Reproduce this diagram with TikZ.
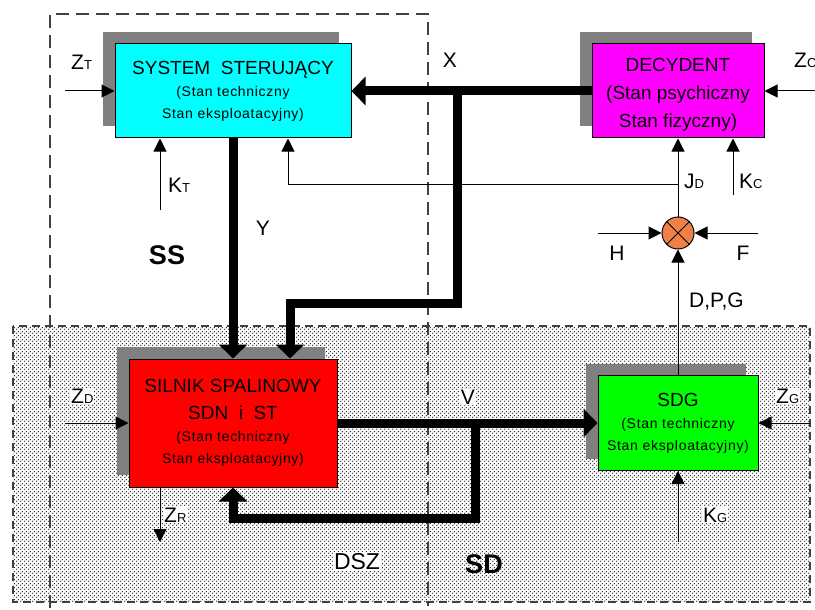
\documentclass[tikz,border=0pt]{standalone}
\usepackage{fontspec}
\setmainfont{Liberation Sans}
\newfontfamily\spcfont[LetterSpace=5]{Liberation Sans}
\usetikzlibrary{arrows.meta,shadows,patterns}
\newcommand\fsz[2]{\fontsize{#1}{#2}\selectfont}
\newcommand\lab[2]{#1{\fsz{13}{13}#2}}
\definecolor{orng}{RGB}{240,128,72}
\definecolor{shadowgray}{RGB}{128,128,128}
\definecolor{boxcyan}{RGB}{0,255,255}
\definecolor{boxmagenta}{RGB}{255,0,255}
\definecolor{boxred}{RGB}{255,0,0}
\definecolor{boxgreen}{RGB}{0,255,0}
\pgfdeclarepatternformonly{stipdots}{\pgfpointorigin}{\pgfpoint{4pt}{4pt}}{\pgfpoint{4pt}{4pt}}%
{\pgfpathcircle{\pgfpoint{1pt}{1pt}}{0.85pt}\pgfpathcircle{\pgfpoint{3pt}{3pt}}{0.85pt}\pgfusepath{fill}}
\begin{document}
\begin{tikzpicture}[x=1pt,y=-1pt,
  box/.style={draw=black, line width=1pt, inner sep=0pt, align=center,
    general shadow={fill=shadowgray, shadow xshift=-12pt, shadow yshift=12pt}},
  thinarr/.style={line width=1pt, -{Triangle[length=13pt,width=13pt]}},
  thickarr/.style={line width=9pt, -{Triangle[length=14pt,width=28pt]}},
  lbl/.style={font=\fsz{21}{24}, inner sep=1pt, fill=white},
  boldlbl/.style={font=\bfseries\fsz{27}{30}, inner sep=1pt},
  dashframe/.style={line width=1.1pt, black!75, dash pattern=on 13pt off 7pt},
  dashstip/.style={line width=1.1pt, black!75, dash pattern=on 8pt off 5pt}
]
\useasboundingbox (0,0) rectangle (815,610);
% background regions
\path[pattern=stipdots, pattern color=black!90] (13,326) rectangle (810,602);
\draw[dashstip] (13,326) rectangle (810,602);
\draw[dashframe] (50,608) -- (50,14) -- (428,14) -- (428,606);

% blocks
\node[box, fill=boxcyan, minimum width=236pt, minimum height=94pt,
      font=\spcfont\fsz{14}{22}] (ss) at (233,91)
  {{\rmfamily\fsz{19}{22}SYSTEM\ \ STERUJĄCY}\\(Stan techniczny\\Stan eksploatacyjny)};
\node[box, fill=boxmagenta, minimum width=172pt, minimum height=94pt,
      font=\fsz{19}{28}] (dec) at (678,91)
  {\rule{0pt}{20pt}DECYDENT\\(Stan psychiczny\\Stan fizyczny)};
\node[box, fill=boxred, minimum width=208pt, minimum height=128pt,
      font=\spcfont\fsz{14}{22}] (sil) at (233,423)
  {{\rmfamily\fsz{19}{22}SILNIK SPALINOWY}\\[5pt]{\rmfamily\fsz{19}{22}SDN\ \ i\ \ ST}\\(Stan techniczny\\Stan eksploatacyjny)};
\node[box, fill=boxgreen, minimum width=160pt, minimum height=95pt,
      font=\spcfont\fsz{14}{22}] (sdg) at (678,423)
  {{\rmfamily\fsz{19}{22}SDG}\\(Stan techniczny\\Stan eksploatacyjny)};
\node[circle, draw=black, line width=1pt, fill=orng, minimum size=32pt, inner sep=0pt] (sj) at (678,233) {};
\draw[line width=0.8pt] (sj.45) -- (sj.225) (sj.135) -- (sj.315);

% coordinates for free ends / bends
\coordinate (zt) at (65,91);
\coordinate (xs) at (457,91);
\coordinate (xc) at (290,303);
\coordinate (kt) at (160,210);
\coordinate (jds) at (678,184);
\coordinate (jdc) at (288,184);
\coordinate (kc) at (733,195);
\coordinate (zc) at (815,91);
\coordinate (h) at (598,233);
\coordinate (f) at (758,233);
\coordinate (zd) at (65,423);
\coordinate (zr) at (160,542);
\coordinate (vs) at (475,423);
\coordinate (fb) at (233,518);
\coordinate (zg) at (810,423);
\coordinate (kg) at (678,542);

% connectors
\draw[thinarr] (zt) -- (ss.west);
\draw[thickarr] (dec.west) -- (ss.east);
\draw[thickarr] (xs) |- (xc) -- (xc |- sil.north);
\draw[thickarr] (ss.south) -- (sil.north);
\draw[thinarr] (kt) -- (kt |- ss.south);
\draw[thinarr] (jds) -- (jdc) -- (jdc |- ss.south);
\draw[thinarr] (sj.north) -- (dec.south);
\draw[thinarr] (kc) -- (kc |- dec.south);
\draw[thinarr] (zc) -- (dec.east);
\draw[thinarr] (h) -- (sj.west);
\draw[thinarr] (f) -- (sj.east);
\draw[thinarr] (sdg.north) -- (sj.south);
\draw[thinarr] (zd) -- (sil.west);
\draw[thinarr] (zr |- sil.south) -- (zr);
\draw[thickarr] (sil.east) -- (sdg.west);
\draw[thickarr] (vs) |- (fb) -- (sil.south);
\draw[thinarr] (zg) -- (sdg.east);
\draw[thinarr] (kg) -- (sdg.south);

% labels
\node[lbl, anchor=base west] (lzt) at (70,70) {\lab{Z}{T}};
\node[lbl, anchor=base] (lx) at (450,68) {X};
\node[lbl, anchor=base west] (lzc) at (793,68) {\lab{Z}{C}};
\node[lbl, anchor=base west] (lkt) at (167,193) {\lab{K}{T}};
\node[lbl, anchor=base] (ly) at (263,235) {Y};
\node[boldlbl, anchor=base] (lss) at (167,264) {SS};
\node[lbl, anchor=base west] (ljd) at (683,188) {\lab{J}{D}};
\node[lbl, anchor=base west] (lkc) at (738,188) {\lab{K}{C}};
\node[lbl, anchor=base] (lh) at (617,260) {H};
\node[lbl, anchor=base] (lf) at (743,260) {F};
\node[lbl, anchor=base west] (ldpg) at (688,307) {D,P,G};
\node[lbl, anchor=base west] (lzd) at (70,403) {\lab{Z}{D}};
\node[lbl, anchor=base] (lv) at (468,404) {V};
\node[lbl, anchor=base west] (lzr) at (163,522) {\lab{Z}{R}};
\node[lbl, anchor=base west] (lzg) at (775,403) {\lab{Z}{G}};
\node[lbl, anchor=base west] (lkg) at (702,522) {\lab{K}{G}};
\node[lbl, font=\fsz{23}{26}, anchor=base] (ldsz) at (357,569) {DSZ};
\node[boldlbl, anchor=base] (lsd) at (484,573) {SD};
\end{tikzpicture}
\end{document}
